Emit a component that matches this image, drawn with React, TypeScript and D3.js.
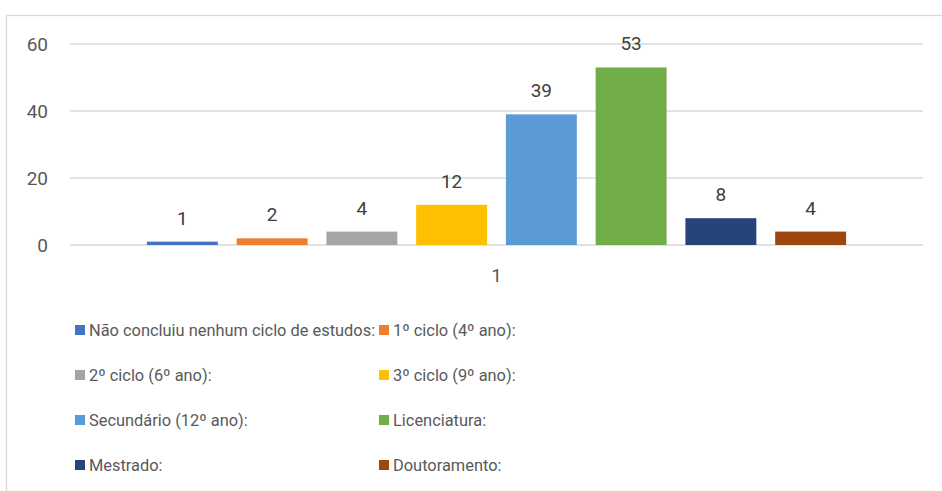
import { useEffect, useRef } from "react";
import * as d3 from "d3";

// categories / series
const categories = ["1"];
const seriesNames = [
  "Não concluiu nenhum ciclo de estudos:",
  "1º ciclo (4º ano):",
  "2º ciclo (6º ano):",
  "3º ciclo (9º ano):",
  "Secundário (12º ano):",
  "Licenciatura:",
  "Mestrado:",
  "Doutoramento:",
];
const seriesValues = [1, 2, 4, 12, 39, 53, 8, 4];
const seriesColors = [
  "#4472c4",
  "#ed7d31",
  "#a5a5a5",
  "#ffc000",
  "#5b9bd5",
  "#70ad47",
  "#264478",
  "#9e480e",
];
const yTicks = [0, 20, 40, 60];

const W = 942;
const H = 491;
const FONT = "Roboto, 'Noto Sans', sans-serif";

export default function App() {
  const ref = useRef<SVGSVGElement>(null);

  useEffect(() => {
    const svg = d3.select(ref.current);
    svg.selectAll("*").remove();

    // chart frame (runs off the right and bottom edges)
    svg
      .append("rect")
      .attr("x", 6.5)
      .attr("y", 15.5)
      .attr("width", 960)
      .attr("height", 500)
      .attr("fill", "#fff")
      .attr("stroke", "#d9d9d9")
      .attr("stroke-width", 1.3);

    const plot = { left: 70, right: 923, top: 44, bottom: 245 };

    const y = d3
      .scaleLinear()
      .domain([0, 60])
      .range([plot.bottom, plot.top]);

    const x0 = d3
      .scaleBand()
      .domain(categories)
      .range([plot.left, plot.right])
      .paddingInner(0)
      .paddingOuter(0.11);

    const x1 = d3
      .scaleBand()
      .domain(seriesNames)
      .range([0, x0.bandwidth()])
      .paddingInner(0.21)
      .paddingOuter(0);

    // gridlines + y labels
    yTicks.forEach((t) => {
      svg
        .append("line")
        .attr("x1", plot.left)
        .attr("x2", plot.right)
        .attr("y1", y(t))
        .attr("y2", y(t))
        .attr("stroke", "#d9d9d9")
        .attr("stroke-width", 1.3);
      svg
        .append("text")
        .attr("x", 48)
        .attr("y", y(t))
        .attr("text-anchor", "end")
        .attr("dominant-baseline", "central")
        .attr("font-family", FONT)
        .attr("font-size", 19)
        .attr("fill", "#595959")
        .text(t);
    });

    // bars + data labels
    categories.forEach((cat) => {
      const g = svg.append("g").attr("transform", `translate(${x0(cat)},0)`);
      seriesNames.forEach((name, i) => {
        const v = seriesValues[i];
        const bx = x1(name)!;
        g.append("rect")
          .attr("x", bx)
          .attr("y", y(v))
          .attr("width", x1.bandwidth())
          .attr("height", y(0) - y(v))
          .attr("fill", seriesColors[i]);
        g.append("text")
          .attr("x", bx + x1.bandwidth() / 2)
          .attr("y", y(v) - 17)
          .attr("text-anchor", "middle")
          .attr("font-family", FONT)
          .attr("font-size", 19)
          .attr("fill", "#404040")
          .text(v);
      });
      // category label
      svg
        .append("text")
        .attr("x", x0(cat)! + x0.bandwidth() / 2)
        .attr("y", 275)
        .attr("text-anchor", "middle")
        .attr("dominant-baseline", "central")
        .attr("font-family", FONT)
        .attr("font-size", 19)
        .attr("fill", "#595959")
        .text(cat);
    });

    // legend, two columns
    const colX = [75, 379];
    const rowY = [330, 375, 420, 465];
    seriesNames.forEach((name, i) => {
      const cx = colX[i % 2];
      const cy = rowY[Math.floor(i / 2)];
      svg
        .append("rect")
        .attr("x", cx)
        .attr("y", cy - 5)
        .attr("width", 10)
        .attr("height", 10)
        .attr("fill", seriesColors[i]);
      svg
        .append("text")
        .attr("x", cx + 14)
        .attr("y", cy)
        .attr("dominant-baseline", "central")
        .attr("font-family", FONT)
        .attr("font-size", 16.4)
        .attr("fill", "#595959")
        .text(name);
    });
  }, []);

  return (
    <svg
      ref={ref}
      width={W}
      height={H}
      style={{ position: "absolute", left: 0, top: 0, background: "#fff" }}
    />
  );
}
